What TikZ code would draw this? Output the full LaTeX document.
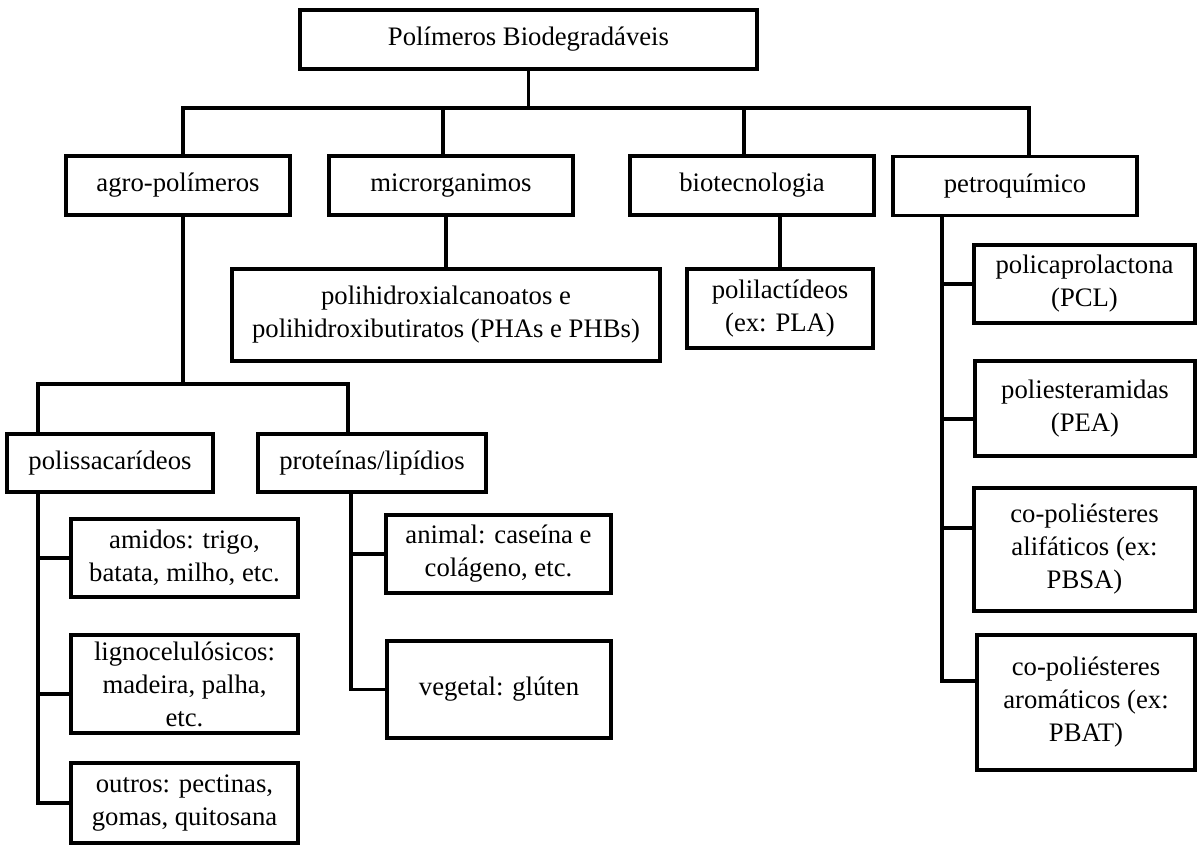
\documentclass[tikz,border=0pt]{standalone}
\usepackage{fontspec}
\setmainfont{Liberation Serif}
\begin{document}
\begin{tikzpicture}[x=1pt,y=-1pt,
  box/.style={draw, line width=3.1pt, inner sep=0pt, align=center,
    font=\fontsize{26.7}{33}\selectfont},
  conn/.style={line width=3.1pt, line join=miter}]
\useasboundingbox (0,0) rectangle (1199,845);
% level 0
\node[box, minimum width=457pt, minimum height=59pt] (top) at (528.5,39.5) {Polímeros Biodegradáveis};
% level 1
\node[box, minimum width=224pt, minimum height=59pt] (agro) at (178,185.5) {agro-polímeros};
\node[box, minimum width=244pt, minimum height=59pt] (micro) at (451,185.5) {microrganimos};
\node[box, minimum width=244pt, minimum height=59pt] (biotec) at (752,185.5) {biotecnologia};
\node[box, minimum width=244pt, minimum height=59pt] (petro) at (1015,186) {petroquímico};
% products
\node[box, minimum width=428pt, minimum height=92pt] (pha) at (446,315) {polihidroxialcanoatos e\\polihidroxibutiratos (PHAs e PHBs)};
\node[box, minimum width=186pt, minimum height=79pt] (pla) at (780,308.5) {polilactídeos\\(ex: PLA)};
% agro sub
\node[box, minimum width=206pt, minimum height=58pt] (polis) at (110,463) {polissacarídeos};
\node[box, minimum width=228pt, minimum height=58pt] (prot) at (372,463) {proteínas/lipídios};
\node[box, minimum width=227pt, minimum height=78pt] (amidos) at (184.5,558) {amidos: trigo,\\batata, milho, etc.};
\node[box, minimum width=227pt, minimum height=98pt] (ligno) at (184.5,684) {lignocelulósicos:\\madeira, palha,\\etc.};
\node[box, minimum width=227pt, minimum height=80pt] (outros) at (184.5,803) {outros: pectinas,\\gomas, quitosana};
\node[box, minimum width=225pt, minimum height=78pt] (animal) at (498.5,554) {animal: caseína e\\colágeno, etc.};
\node[box, minimum width=224pt, minimum height=97pt] (vegetal) at (499,689.5) {vegetal: glúten};
% petro sub
\node[box, minimum width=221pt, minimum height=78pt] (pcl) at (1084.5,284) {policaprolactona\\(PCL)};
\node[box, minimum width=220pt, minimum height=95pt] (pea) at (1085,408.5) {poliesteramidas\\(PEA)};
\node[box, minimum width=221pt, minimum height=123pt] (alif) at (1084.5,549.5) {co-poliésteres\\alifáticos (ex:\\PBSA)};
\node[box, minimum width=218pt, minimum height=135pt] (arom) at (1086,702.5) {co-poliésteres\\aromáticos (ex:\\PBAT)};
% bus coordinates
\coordinate (b1L) at (183,108);
\coordinate (b1R) at (1029,108);
\coordinate (mdrop) at (443,108);
\coordinate (bdrop) at (744,108);
\coordinate (b2) at (183,384);
\coordinate (b2L) at (38,384);
\coordinate (b2R) at (348,384);
\coordinate (lg) at (38,694);
\coordinate (ps) at (351,492);
\coordinate (pst) at (942,216);
\coordinate (cb) at (942,419);
\coordinate (cc) at (942,528);
\coordinate (ca) at (942,681);
% connectors level 0-1
\draw[conn] (top.south) -- (top.south |- b1L);
\draw[conn] (agro.north -| b1L) -- (b1L) -- (b1R) -- (petro.north -| b1R);
\draw[conn] (mdrop) -- (micro.north -| mdrop);
\draw[conn] (bdrop) -- (biotec.north -| bdrop);
% products
\draw[conn] (micro.south -| pha.north) -- (pha.north);
\draw[conn] (biotec.south -| pla.north) -- (pla.north);
% agro
\draw[conn] (agro.south -| b2) -- (b2);
\draw[conn] (polis.north -| b2L) -- (b2L) -- (b2R) -- (prot.north -| b2R);
\draw[conn] (polis.south -| b2L) |- (outros.west);
\draw[conn] (b2L |- amidos.west) -- (amidos.west);
\draw[conn] (lg) -- (ligno.west |- lg);
\draw[conn] (prot.south -| ps) |- (vegetal.west);
\draw[conn] (ps |- animal.west) -- (animal.west);
% petro
\draw[conn] (petro.south -| pst) -- (ca) -- (arom.west |- ca);
\draw[conn] (pst |- pcl.west) -- (pcl.west);
\draw[conn] (cb) -- (pea.west |- cb);
\draw[conn] (cc) -- (alif.west |- cc);
\end{tikzpicture}
\end{document}
